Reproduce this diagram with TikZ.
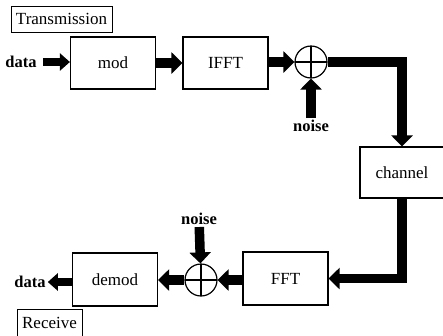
\documentclass[tikz,border=0pt]{standalone}
\usepackage{fontspec}
\setmainfont{Liberation Serif}
\usepackage{tikz}
\usetikzlibrary{positioning, arrows.meta, calc}

\begin{document}
\begin{tikzpicture}[x=1pt, y=-1pt,
    blk/.style={draw, line width=1.2pt, minimum width=85pt, minimum height=52pt,
      inner sep=0pt, font=\fontsize{17}{19}\selectfont},
    tag/.style={draw, line width=1pt, inner sep=0pt, font=\fontsize{17}{19}\selectfont},
    lbl/.style={inner sep=2pt, font=\fontsize{16.5}{18}\selectfont\bfseries},
    adder/.style={circle, draw, line width=1.2pt, minimum size=32pt, inner sep=0pt,
      path picture={
        \draw[line width=1.2pt] (path picture bounding box.north) -- (path picture bounding box.south);
        \draw[line width=1.2pt] (path picture bounding box.west) -- (path picture bounding box.east);
      }},
    flow/.style={line width=9.5pt, line join=miter, -{Triangle[length=11pt, width=21pt]}},
    thin flow/.style={line width=8pt, -{Triangle[length=10pt, width=17pt]}}
  ]
      \useasboundingbox (0,0) rectangle (443,335);
      % ── section tags ─────────────────────────────────────────────────────────
      \node[tag, minimum width=101pt, minimum height=26pt] (txTag) at (61.5,19) {Transmission};
      \node[tag, minimum width=65pt, minimum height=28pt] (rxTag) at (49.5,323) {Receive};
      % ── transmit chain ───────────────────────────────────────────────────────
      \node[lbl] (dataIn) at (21,62) {data};
      \node[blk] (mod) at (113,63) {mod};
      \node[blk] (ifft) at (225.5,63) {IFFT};
      \node[adder] (sumTx) at (311,62) {};
      \node[lbl] (noiseTx) at (311,126) {noise};
      % ── channel ──────────────────────────────────────────────────────────────
      \node[blk, minimum width=84pt, minimum height=51pt] (channel) at (402,172.5) {channel};
      % ── receive chain ────────────────────────────────────────────────────────
      \node[blk, minimum height=53pt] (fft) at (285.5,278.5) {FFT};
      \node[adder] (sumRx) at (201,280) {};
      \node[lbl] (noiseRx) at (199,219) {noise};
      \node[blk, minimum height=53pt] (demod) at (115,279.5) {demod};
      \node[lbl] (dataOut) at (30,282) {data};
      % ── connectors ───────────────────────────────────────────────────────────
      \draw[thin flow, shorten <=4pt] (dataIn) -- (mod.west |- dataIn);
      \draw[flow] (mod) -- (ifft);
      \draw[flow] (ifft.east |- sumTx) -- (sumTx);
      \draw[flow] (noiseTx) -- (sumTx);
      \draw[flow] (sumTx.east) -| (channel.north);
      \draw[flow] (channel.south) |- (fft.east);
      \draw[flow] (fft.west |- sumRx) -- (sumRx);
      \draw[flow] (noiseRx) -- (sumRx);
      \draw[flow] (sumRx) -- (demod.east |- sumRx);
      \draw[thin flow] (demod.west |- dataOut) -- (dataOut);
\end{tikzpicture}
\end{document}
